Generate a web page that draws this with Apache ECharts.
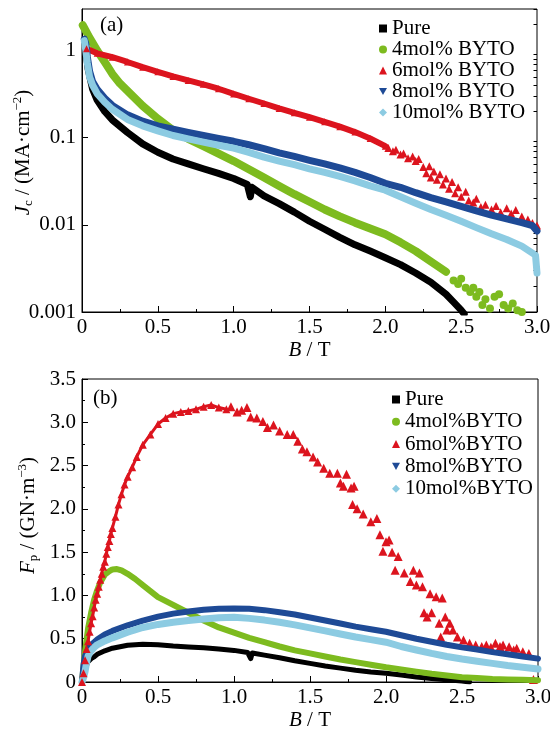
<!DOCTYPE html>
<html><head><meta charset="utf-8">
<script src="https://cdn.jsdelivr.net/npm/echarts@6/dist/echarts.min.js"></script>
<style>html,body{margin:0;padding:0;background:#fff}#c{width:550px;height:733px}</style>
</head><body><div id="c"></div>
<script>
// ---------- tick labels ----------
const bTickLabels = ['0','0.5','1.0','1.5','2.0','2.5','3.0'];
const jcTickValues = [0.001, 0.01, 0.1, 1];
const jcTickLabels = ['0.001','0.01','0.1','1'];
const fpTickLabels = ['0','0.5','1.0','1.5','2.0','2.5','3.0','3.5'];

// ---------- names ----------
const namesA = ['Pure','4mol% BYTO','6mol% BYTO','8mol% BYTO','10mol% BYTO'];
const namesB = ['Pure','4mol%BYTO','6mol%BYTO','8mol%BYTO','10mol%BYTO'];

// ---------- (a) Jc vs B  [B (T), Jc (MA/cm2)] ----------
const jcPure = [[0.02,1.25],[0.04,0.62],[0.07,0.36],[0.1,0.27],[0.15,0.2],[0.2,0.16],[0.3,0.115],[0.4,0.085],[0.5,0.068],[0.6,0.057],[0.7,0.05],[0.8,0.044],[0.9,0.039],[1.0,0.034],[1.09,0.029],[1.11,0.021],[1.12,0.027],[1.2,0.0215],[1.3,0.0175],[1.4,0.014],[1.5,0.011],[1.6,0.0089],[1.7,0.0072],[1.8,0.0059],[1.9,0.005],[2.0,0.0042],[2.1,0.0035],[2.2,0.0028],[2.3,0.0022],[2.4,0.0016],[2.45,0.0013],[2.5,0.00105],[2.52,0.00095]];
const jc4 = [[0.005,1.95],[0.02,1.75],[0.05,1.4],[0.1,1.0],[0.15,0.74],[0.2,0.54],[0.25,0.42],[0.3,0.345],[0.4,0.232],[0.5,0.165],[0.6,0.122],[0.7,0.097],[0.8,0.08],[0.9,0.0656],[1.0,0.054],[1.1,0.0435],[1.2,0.035],[1.3,0.028],[1.4,0.0225],[1.5,0.0184],[1.6,0.015],[1.7,0.0125],[1.8,0.0106],[1.9,0.0091],[2.0,0.0078],[2.1,0.0063],[2.2,0.005],[2.3,0.0038],[2.4,0.0029]];
const jc4Tail = [[2.45,0.0023],[2.48,0.0021],[2.5,0.0024],[2.53,0.0019],[2.56,0.0017],[2.58,0.0019],[2.6,0.0015],[2.62,0.0017],[2.64,0.0012],[2.66,0.0014],[2.69,0.0011],[2.72,0.0015],[2.75,0.0016],[2.78,0.0012],[2.81,0.0011],[2.84,0.00125],[2.87,0.00105],[2.9,0.001]];
const jc6 = [[0.03,1.05],[0.1,0.93],[0.2,0.84],[0.3,0.74],[0.4,0.645],[0.5,0.57],[0.6,0.505],[0.7,0.455],[0.8,0.41],[0.9,0.365],[1.0,0.318],[1.1,0.28],[1.2,0.247],[1.3,0.217],[1.4,0.193],[1.5,0.172],[1.6,0.152],[1.7,0.134],[1.8,0.116],[1.9,0.098],[2.0,0.08]];
const jc6Tail = [[2.02,0.076],[2.05,0.07],[2.07,0.073],[2.1,0.064],[2.12,0.066],[2.15,0.058],[2.18,0.061],[2.2,0.054],[2.22,0.057],[2.25,0.046],[2.27,0.039],[2.29,0.047],[2.3,0.035],[2.32,0.041],[2.34,0.033],[2.36,0.038],[2.38,0.029],[2.4,0.034],[2.42,0.026],[2.44,0.031],[2.46,0.023],[2.48,0.027],[2.5,0.021],[2.53,0.024],[2.55,0.019],[2.58,0.018],[2.6,0.02],[2.63,0.016],[2.66,0.017],[2.7,0.015],[2.73,0.0165],[2.76,0.014],[2.8,0.0155],[2.83,0.0135],[2.86,0.0148],[2.9,0.0125],[2.94,0.0115],[2.97,0.0105],[3.0,0.0098]];
const jc8 = [[0.015,1.35],[0.025,1.2],[0.035,0.85],[0.05,0.58],[0.07,0.44],[0.1,0.36],[0.15,0.284],[0.2,0.235],[0.3,0.183],[0.4,0.155],[0.5,0.137],[0.6,0.125],[0.7,0.115],[0.8,0.106],[0.9,0.098],[1.0,0.091],[1.1,0.083],[1.2,0.075],[1.3,0.067],[1.4,0.061],[1.5,0.055],[1.6,0.05],[1.7,0.045],[1.8,0.04],[1.9,0.035],[2.0,0.03],[2.1,0.027],[2.2,0.0234],[2.3,0.0205],[2.4,0.0183],[2.5,0.0163],[2.6,0.0145],[2.7,0.0129],[2.8,0.0117],[2.9,0.0106],[2.97,0.0098],[3.0,0.0085]];
const jc10 = [[0.015,1.3],[0.025,1.0],[0.035,0.72],[0.05,0.5],[0.07,0.4],[0.1,0.32],[0.15,0.255],[0.2,0.212],[0.3,0.162],[0.4,0.137],[0.5,0.12],[0.6,0.106],[0.7,0.097],[0.8,0.089],[0.9,0.082],[1.0,0.076],[1.1,0.068],[1.2,0.06],[1.3,0.054],[1.4,0.049],[1.5,0.044],[1.6,0.04],[1.7,0.036],[1.8,0.032],[1.9,0.028],[2.0,0.025],[2.1,0.021],[2.2,0.0177],[2.3,0.015],[2.4,0.0129],[2.5,0.011],[2.6,0.0093],[2.7,0.0079],[2.8,0.0068],[2.9,0.0057],[2.99,0.0045],[3.0,0.0028]];

// ---------- (b) Fp vs B  [B (T), Fp (GN/m3)] ----------
const fpPure = [[0.01,0.08],[0.02,0.15],[0.04,0.235],[0.06,0.27],[0.08,0.29],[0.1,0.32],[0.15,0.36],[0.2,0.39],[0.3,0.425],[0.4,0.435],[0.5,0.43],[0.6,0.415],[0.7,0.405],[0.8,0.395],[0.9,0.38],[1.0,0.365],[1.09,0.34],[1.11,0.27],[1.12,0.335],[1.2,0.31],[1.3,0.28],[1.4,0.245],[1.5,0.215],[1.6,0.185],[1.7,0.16],[1.8,0.135],[1.9,0.115],[2.0,0.1],[2.1,0.08],[2.2,0.058],[2.3,0.04],[2.4,0.025],[2.5,0.012],[2.55,0.0]];
const fp4 = [[0.0,0.0],[0.02,0.35],[0.04,0.62],[0.06,0.8],[0.08,0.95],[0.1,1.06],[0.12,1.15],[0.15,1.24],[0.18,1.28],[0.2,1.3],[0.23,1.305],[0.26,1.29],[0.3,1.25],[0.35,1.19],[0.4,1.12],[0.5,0.98],[0.6,0.89],[0.7,0.8],[0.8,0.71],[0.9,0.63],[1.0,0.57],[1.1,0.51],[1.2,0.46],[1.3,0.41],[1.4,0.365],[1.5,0.33],[1.6,0.295],[1.7,0.26],[1.8,0.23],[1.9,0.2],[2.0,0.17],[2.1,0.145],[2.2,0.12],[2.3,0.095],[2.4,0.075],[2.5,0.055],[2.6,0.045],[2.7,0.035],[2.8,0.03],[2.9,0.025],[3.0,0.02]];
const fp6 = [[0.0,0.0],[0.01,0.1],[0.02,0.25],[0.03,0.38],[0.04,0.47],[0.05,0.58],[0.06,0.68],[0.07,0.76],[0.08,0.86],[0.09,0.95],[0.1,1.02],[0.11,1.1],[0.12,1.18],[0.13,1.25],[0.14,1.33],[0.15,1.39],[0.16,1.48],[0.17,1.56],[0.18,1.63],[0.19,1.71],[0.2,1.78],[0.22,1.91],[0.24,2.05],[0.26,2.17],[0.28,2.28],[0.3,2.37],[0.33,2.48],[0.36,2.6],[0.4,2.74],[0.45,2.86],[0.5,2.98],[0.55,3.05],[0.6,3.1],[0.65,3.12],[0.7,3.13],[0.75,3.15],[0.8,3.18],[0.85,3.2],[0.9,3.17],[0.95,3.15]];
const fp6Tail = [[0.98,3.18],[1.02,3.12],[1.05,3.14],[1.085,3.17],[1.11,3.06],[1.15,3.05],[1.19,3.01],[1.22,2.94],[1.26,2.97],[1.3,2.9],[1.35,2.86],[1.39,2.86],[1.42,2.78],[1.45,2.69],[1.48,2.66],[1.52,2.6],[1.55,2.54],[1.59,2.47],[1.63,2.41],[1.68,2.41],[1.7,2.3],[1.72,2.26],[1.74,2.4],[1.77,2.24],[1.79,2.26],[1.78,2.05],[1.81,2.0],[1.85,1.94],[1.9,1.85],[1.94,1.89],[1.96,1.7],[1.98,1.51],[2.0,1.62],[2.02,1.64],[2.04,1.5],[2.06,1.29],[2.08,1.45],[2.12,1.26],[2.16,1.16],[2.18,1.29],[2.2,1.12],[2.22,1.26],[2.24,1.1],[2.25,0.8],[2.27,0.75],[2.29,1.02],[2.3,0.8],[2.33,0.985],[2.35,0.68],[2.36,0.52],[2.37,0.97],[2.39,0.75],[2.4,0.6],[2.42,0.68],[2.44,0.6],[2.47,0.52],[2.51,0.485],[2.55,0.447],[2.59,0.427],[2.63,0.41],[2.66,0.427],[2.69,0.4],[2.72,0.447],[2.75,0.41],[2.77,0.427],[2.81,0.408],[2.84,0.37],[2.86,0.39],[2.9,0.35],[2.94,0.33],[2.97,0.03]];
const fp8 = [[0.0,0.0],[0.005,0.1],[0.01,0.2],[0.02,0.3],[0.04,0.38],[0.06,0.43],[0.08,0.46],[0.1,0.49],[0.15,0.55],[0.2,0.59],[0.3,0.655],[0.4,0.71],[0.5,0.755],[0.6,0.79],[0.7,0.815],[0.8,0.835],[0.9,0.845],[1.0,0.85],[1.1,0.845],[1.2,0.83],[1.3,0.805],[1.4,0.78],[1.5,0.745],[1.6,0.71],[1.7,0.675],[1.8,0.64],[1.9,0.61],[2.0,0.58],[2.1,0.54],[2.2,0.5],[2.3,0.465],[2.4,0.43],[2.5,0.4],[2.6,0.375],[2.7,0.345],[2.8,0.32],[2.9,0.295],[3.0,0.27]];
const fp10 = [[0.0,0.0],[0.01,0.05],[0.02,0.12],[0.03,0.22],[0.04,0.3],[0.06,0.36],[0.08,0.4],[0.1,0.43],[0.15,0.475],[0.2,0.51],[0.3,0.575],[0.4,0.63],[0.5,0.665],[0.6,0.69],[0.7,0.71],[0.8,0.728],[0.9,0.742],[1.0,0.748],[1.1,0.735],[1.2,0.715],[1.3,0.69],[1.4,0.66],[1.5,0.625],[1.6,0.59],[1.7,0.555],[1.8,0.52],[1.9,0.49],[2.0,0.46],[2.1,0.41],[2.2,0.37],[2.3,0.33],[2.4,0.295],[2.5,0.265],[2.6,0.24],[2.7,0.215],[2.8,0.19],[2.9,0.17],[3.0,0.15]];

// ---------- styles ----------
const FONT = 'Liberation Serif';
const C = {pure:'#000000', g:'#7dbb1f', r:'#dc141e', b:'#1e4a96', lb:'#8ccbe2'};
const minorDecades = [0.001, 0.01, 0.1, 1];
const jcMinor = [];
minorDecades.forEach(d => { for (let k = 2; k <= 9; k++) { const v = d * k; if (v <= 3.0001) jcMinor.push(v); } });

function lineS(name, data, color, symbol, size, width, xi, yi, showSym, rot) {
  return {type:'line', name, data, xAxisIndex:xi, yAxisIndex:yi, symbol, symbolSize:size,
    symbolRotate: rot || 0, showSymbol:!!showSym, clip:true,
    lineStyle:{color, width, join:'round', cap:'round'}, itemStyle:{color}, emphasis:{disabled:true}, animation:false};
}
function scatS(name, data, color, symbol, size, xi, yi) {
  return {type:'scatter', name, data, xAxisIndex:xi, yAxisIndex:yi, symbol, symbolSize:size, clip:true,
    itemStyle:{color, opacity:1}, emphasis:{disabled:true}, animation:false};
}
const txt = {fontFamily:FONT, fontSize:21, color:'#000'};
const nameRich = {
  n:{fontFamily:FONT, fontSize:21, color:'#000', lineHeight:24},
  i:{fontFamily:FONT, fontSize:21, fontStyle:'italic', color:'#000', lineHeight:24},
  sub:{fontFamily:FONT, fontSize:13, color:'#000', verticalAlign:'bottom', lineHeight:13},
  sup:{fontFamily:FONT, fontSize:13, color:'#000', verticalAlign:'top', lineHeight:13}
};
function xAx(gi) {
  return {type:'value', gridIndex:gi, min:0, max:3, interval:0.5,
    name:'{i|B}{n| / T}', nameLocation:'middle', nameGap:26, nameMoveOverlap:false, nameTextStyle:{rich:nameRich},
    axisLine:{lineStyle:{color:'#000', width:1}},
    axisTick:{inside:true, length:6, lineStyle:{color:'#000'}},
    minorTick:{show:true, splitNumber:2, length:3, lineStyle:{color:'#000'}},
    splitLine:{show:false},
    axisLabel:Object.assign({margin:5, formatter: v => bTickLabels[Math.round(v/0.5)]}, txt)};
}
const legendText = {fontFamily:FONT, fontSize:21, color:'#000', lineHeight:20};
const downTri = 'path://M0,0L10,0L5,9Z';

const option = {
  backgroundColor:'#fff',
  animation:false,
  grid:[
    {left:82, right:13, top:9, height:303, show:true, borderColor:'#000', borderWidth:1, containLabel:false, outerBoundsMode:'none'},
    {left:82, right:12, top:379, height:303, show:true, borderColor:'#000', borderWidth:1, containLabel:false, outerBoundsMode:'none'}
  ],
  xAxis:[xAx(0), xAx(1)],
  yAxis:[
    {type:'log', gridIndex:0, min:0.001, max:3, logBase:10,
      name:'{i|J}{sub|c}{n| / (MA·cm}{sup|−2}{n|)}', nameLocation:'middle', nameGap:47, nameMoveOverlap:false,
      nameTextStyle:{rich:nameRich, padding:[0,0,0,16]},
      axisLine:{lineStyle:{color:'#000'}},
      axisTick:{inside:true, length:6, customValues:jcTickValues, lineStyle:{color:'#000'}},
      splitLine:{show:false},
      axisLabel:Object.assign({margin:6, customValues:jcTickValues, formatter: v => {
        const i = jcTickValues.findIndex(t => Math.abs(Math.log10(v/t)) < 1e-6);
        return i >= 0 ? jcTickLabels[i] : ''; }}, txt)},
    {type:'log', gridIndex:0, min:0.001, max:3, logBase:10, nameMoveOverlap:false,
      axisLine:{show:false}, splitLine:{show:false}, axisLabel:{show:false},
      axisTick:{inside:true, length:3.5, customValues:jcMinor, lineStyle:{color:'#000'}}},
    {type:'value', gridIndex:1, min:0, max:3.5, interval:0.5,
      name:'{i|F}{sub|p}{n| / (GN·m}{sup|−3}{n|)}', nameLocation:'middle', nameGap:42, nameMoveOverlap:false,
      nameTextStyle:{rich:nameRich, padding:[0,0,0,30]},
      axisLine:{lineStyle:{color:'#000'}},
      axisTick:{inside:true, length:6, lineStyle:{color:'#000'}},
      minorTick:{show:true, splitNumber:2, length:3, lineStyle:{color:'#000'}},
      splitLine:{show:false},
      axisLabel:Object.assign({margin:6, formatter: v => fpTickLabels[Math.round(v/0.5)]}, txt)}
  ],
  legend:[
    {orient:'vertical', left:374, top:13, itemWidth:8, itemHeight:8, itemGap:0,
      selectedMode:false, textStyle:legendText,
      data:[{name:namesA[0], icon:'rect'},{name:namesA[1], icon:'circle'},{name:namesA[2], icon:'triangle'},
            {name:namesA[3], icon:downTri},{name:namesA[4], icon:'diamond'}]},
    {orient:'vertical', left:387, top:384, itemWidth:8, itemHeight:8, itemGap:1.3,
      selectedMode:false, textStyle:legendText,
      data:[{name:namesB[0], icon:'rect'},{name:namesB[1], icon:'circle'},{name:namesB[2], icon:'triangle'},
            {name:namesB[3], icon:downTri},{name:namesB[4], icon:'diamond'}]}
  ],
  graphic:[
    {type:'text', left:100, top:15, style:{text:'(a)', font:'21px "Liberation Serif"', fill:'#000'}},
    {type:'text', left:93, top:388, style:{text:'(b)', font:'21px "Liberation Serif"', fill:'#000'}}
  ],
  series:[
    lineS(namesA[0], jcPure, C.pure, 'rect', 6, 7, 0, 0),
    lineS(namesA[1], jc4, C.g, 'circle', 7, 8, 0, 0),
    scatS(namesA[1], jc4Tail, C.g, 'circle', 8, 0, 0),
    lineS(namesA[2], jc6, C.r, 'triangle', 7, 6, 0, 0, true),
    scatS(namesA[2], jc6Tail, C.r, 'triangle', 8, 0, 0),
    lineS(namesA[3], jc8, C.b, 'triangle', 6, 7, 0, 0, false, 180),
    lineS(namesA[4], jc10, C.lb, 'diamond', 7, 7, 0, 0),

    lineS(namesB[0], fpPure, C.pure, 'rect', 5, 5, 1, 2),
    lineS(namesB[1], fp4, C.g, 'circle', 7, 6, 1, 2),
    lineS(namesB[2], fp6, C.r, 'triangle', 8, 3, 1, 2, true),
    scatS(namesB[2], fp6Tail, C.r, 'triangle', 9, 1, 2),
    lineS(namesB[3], fp8, C.b, 'triangle', 6, 6, 1, 2, false, 180),
    lineS(namesB[4], fp10, C.lb, 'diamond', 7, 7, 1, 2)
  ]
};
const chart = echarts.init(document.getElementById('c'), null, {renderer:'canvas'});
chart.setOption(option);
</script></body></html>
